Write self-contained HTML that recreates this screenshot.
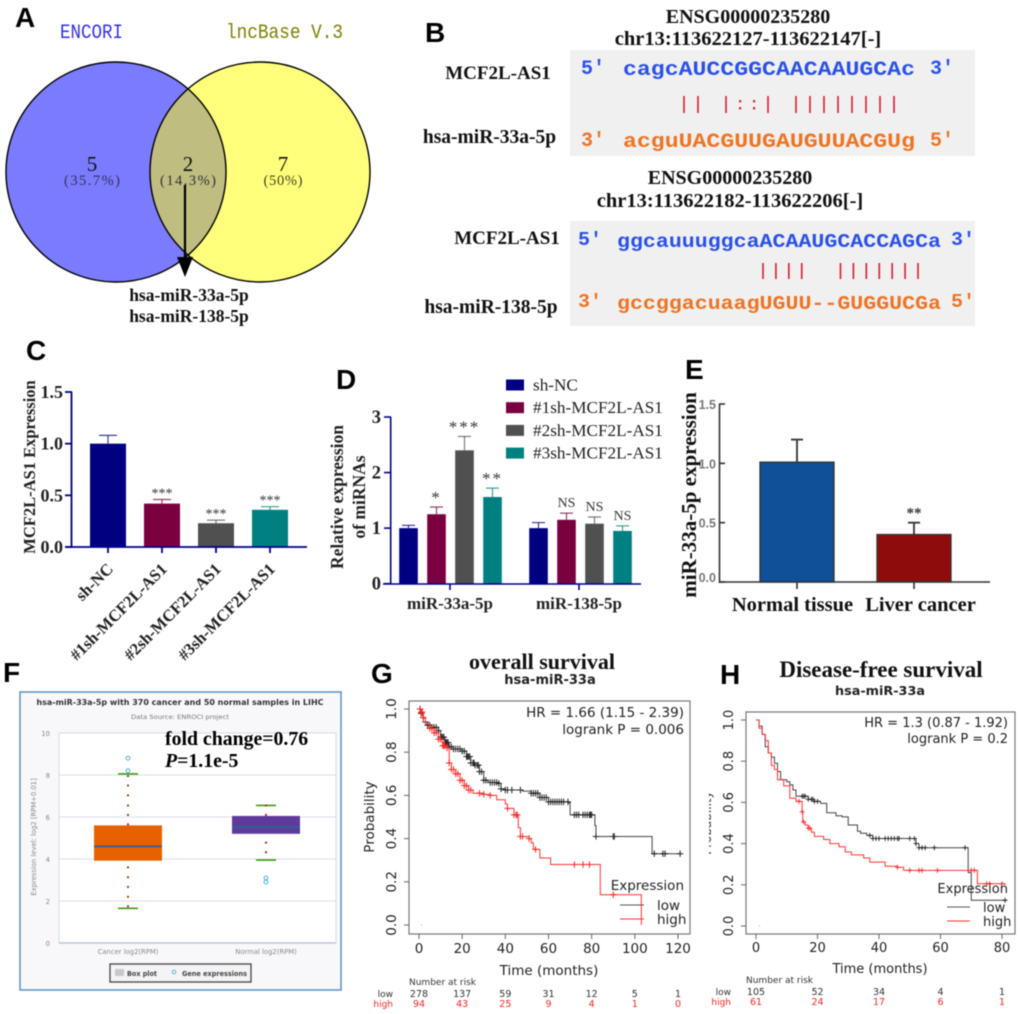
<!DOCTYPE html>
<html lang="en">
<head>
<meta charset="utf-8">
<title>Multi-panel figure on MCF2L-AS1 and miR-33a-5p</title>
<style>
html,body{margin:0;padding:0;background:#fff;}
svg{display:block;filter:blur(0.4px);}
.serif{font-family:"Liberation Serif",serif;}
.bold{font-weight:bold;}
.sans{font-family:"DejaVu Sans",sans-serif;}
.mono{font-family:"Liberation Mono",monospace;font-weight:bold;}
.letter{font-family:"Liberation Sans",sans-serif;font-weight:bold;font-size:28px;fill:#000;}
</style>
</head>
<body>
<svg id="fig" xmlns="http://www.w3.org/2000/svg" width="1020" height="1014" viewBox="0 0 1020 1014">
<defs>
<clipPath id="lens"><circle cx="116" cy="172" r="110"/></clipPath>
<clipPath id="hclip"><rect x="709" y="700" width="6" height="200"/></clipPath>
</defs>
<rect x="0" y="0" width="1020" height="1014" fill="#fff"/>

<!-- Panel A -->
<g id="panelA">
<text class="letter" x="15" y="27">A</text>
<text x="60" y="38" font-family="Liberation Mono, monospace" font-size="20" fill="#3232ee" textLength="63" lengthAdjust="spacingAndGlyphs">ENCORI</text>
<text x="226" y="38" font-family="Liberation Mono, monospace" font-size="20" fill="#808000" textLength="117" lengthAdjust="spacingAndGlyphs">lncBase V.3</text>
<circle cx="116" cy="172" r="110" fill="#7b7bff"/>
<circle cx="260" cy="172" r="110" fill="#ffff7b"/>
<circle cx="260" cy="172" r="110" fill="#bfbd80" clip-path="url(#lens)"/>
<circle cx="116" cy="172" r="110" fill="none" stroke="#000" stroke-width="1.4"/>
<circle cx="260" cy="172" r="110" fill="none" stroke="#000" stroke-width="1.4"/>
<text class="serif" x="92" y="171" font-size="21" text-anchor="middle" fill="#111">5</text>
<text class="serif" x="92" y="185" font-size="14.5" text-anchor="middle" fill="#33335a" textLength="56">(35.7%)</text>
<text class="serif" x="188" y="171" font-size="21" text-anchor="middle" fill="#111">2</text>
<text class="serif" x="188" y="185" font-size="14.5" text-anchor="middle" fill="#333" textLength="56">(14.3%)</text>
<text class="serif" x="283" y="171" font-size="21" text-anchor="middle" fill="#111">7</text>
<text class="serif" x="283" y="185" font-size="14.5" text-anchor="middle" fill="#444420" textLength="39">(50%)</text>
<line x1="185" y1="185" x2="185" y2="258" stroke="#000" stroke-width="2.2"/>
<polygon points="177,257 193,257 185,277" fill="#000"/>
<text class="serif bold" x="189" y="301" font-size="17.5" text-anchor="middle" fill="#111">hsa-miR-33a-5p</text>
<text class="serif bold" x="189" y="322" font-size="17.5" text-anchor="middle" fill="#111">hsa-miR-138-5p</text>
</g>

<!-- Panel B -->
<g id="panelB">
<text class="letter" x="425" y="42">B</text>
<text class="serif bold" x="748" y="23" font-size="20" text-anchor="middle" fill="#111">ENSG00000235280</text>
<text class="serif bold" x="748" y="45" font-size="20.5" text-anchor="middle" fill="#111">chr13:113622127-113622147[-]</text>
<rect x="570" y="50" width="405" height="106" fill="#f0f0f0"/>
<text class="serif bold" x="498" y="79" font-size="19" text-anchor="middle" fill="#111">MCF2L-AS1</text>
<text class="serif bold" x="489.5" y="143" font-size="19.5" text-anchor="middle" fill="#111">hsa-miR-33a-5p</text>
<text class="mono" x="581" y="74" font-size="20" fill="#2a50e8" textLength="24" lengthAdjust="spacingAndGlyphs">5'</text>
<text class="mono" x="623" y="75" font-size="20" fill="#2a50e8" textLength="292" lengthAdjust="spacingAndGlyphs">cagcAUCCGGCAACAAUGCAc</text>
<text class="mono" x="930" y="74" font-size="20" fill="#2a50e8" textLength="24" lengthAdjust="spacingAndGlyphs">3'</text>
<text class="mono" x="581" y="146" font-size="20" fill="#ee7322" textLength="24" lengthAdjust="spacingAndGlyphs">3'</text>
<text class="mono" x="623" y="147" font-size="20" fill="#ee7322" textLength="292" lengthAdjust="spacingAndGlyphs">acguUACGUUGAUGUUACGUg</text>
<text class="mono" x="930" y="146" font-size="20" fill="#ee7322" textLength="24" lengthAdjust="spacingAndGlyphs">5'</text>
<g id="pairs1"></g>
<text class="serif bold" x="730" y="184" font-size="20" text-anchor="middle" fill="#111">ENSG00000235280</text>
<text class="serif bold" x="730" y="207" font-size="20.5" text-anchor="middle" fill="#111">chr13:113622182-113622206[-]</text>
<rect x="570" y="221" width="405" height="105" fill="#f0f0f0"/>
<text class="serif bold" x="507" y="244" font-size="19" text-anchor="middle" fill="#111">MCF2L-AS1</text>
<text class="serif bold" x="491" y="313" font-size="19.5" text-anchor="middle" fill="#111">hsa-miR-138-5p</text>
<text class="mono" x="578" y="245" font-size="19" fill="#2a50e8" textLength="24" lengthAdjust="spacingAndGlyphs">5'</text>
<text class="mono" x="617" y="247" font-size="19" fill="#2a50e8" textLength="324" lengthAdjust="spacingAndGlyphs">ggcauuuggcaACAAUGCACCAGCa</text>
<text class="mono" x="951" y="245" font-size="19" fill="#2a50e8" textLength="24" lengthAdjust="spacingAndGlyphs">3'</text>
<text class="mono" x="578" y="307" font-size="19" fill="#ee7322" textLength="24" lengthAdjust="spacingAndGlyphs">3'</text>
<text class="mono" x="617" y="309" font-size="19" fill="#ee7322" textLength="324" lengthAdjust="spacingAndGlyphs">gccggacuaagUGUU--GUGGUCGa</text>
<text class="mono" x="951" y="307" font-size="19" fill="#ee7322" textLength="24" lengthAdjust="spacingAndGlyphs">5'</text>
<g id="pairs2"></g>
</g>

<!-- Panel C -->
<g id="panelC">
<text class="letter" x="26" y="360">C</text>
<text class="serif bold" transform="translate(35,467) rotate(-90)" font-size="16.5" text-anchor="middle" fill="#222">MCF2L-AS1 Expression</text>
</g>

<!-- Panel D -->
<g id="panelD">
<text class="letter" x="336" y="389">D</text>
<text class="serif bold" transform="translate(343,497) rotate(-90)" font-size="17.5" text-anchor="middle" fill="#222">Relative expression</text>
<text class="serif bold" transform="translate(365,497) rotate(-90)" font-size="17.5" text-anchor="middle" fill="#222">of miRNAs</text>
</g>

<!-- Panel E -->
<g id="panelE">
<text class="letter" x="685" y="379">E</text>
<text class="serif bold" transform="translate(696,495) rotate(-90)" font-size="21" text-anchor="middle" fill="#111">miR-33a-5p expression</text>
</g>

<!-- Panel F -->
<g id="panelF">
<text class="letter" x="3" y="682">F</text>
<rect x="20" y="692" width="321" height="298" fill="#f8f8fb" stroke="#5f8fbf" stroke-width="1.5"/>
<text class="sans bold" x="180" y="705" font-size="8" text-anchor="middle" fill="#333" textLength="287" lengthAdjust="spacingAndGlyphs">hsa-miR-33a-5p with 370 cancer and 50 normal samples in LIHC</text>
<text class="sans" x="180" y="719" font-size="6.5" text-anchor="middle" fill="#777" textLength="98" lengthAdjust="spacingAndGlyphs">Data Source: ENROCI project</text>
<rect x="59" y="733" width="277" height="210" fill="#fff"/>
<text class="sans" transform="translate(36,837) rotate(-90)" font-size="6.8" text-anchor="middle" fill="#888">Expression level: log2 [RPM+0.01]</text>
<rect x="110" y="964" width="141" height="18" fill="#f4f4f6" stroke="#444" stroke-width="1.3"/>
<rect x="115" y="969" width="9" height="7" fill="#c8c8c8"/>
<text class="sans bold" x="127" y="976" font-size="7" fill="#444" textLength="30" lengthAdjust="spacingAndGlyphs">Box plot</text>
<circle cx="174" cy="972" r="1.8" fill="none" stroke="#4bb0d0" stroke-width="0.9"/>
<text class="sans bold" x="182" y="976" font-size="7" fill="#444" textLength="65" lengthAdjust="spacingAndGlyphs">Gene expressions</text>
</g>

<!-- Panel G -->
<g id="panelG">
<text class="letter" x="371" y="683">G</text>
<text class="serif bold" x="542" y="669" font-size="22" text-anchor="middle" fill="#111">overall survival</text>
<text class="sans bold" x="550" y="684" font-size="13" text-anchor="middle" fill="#222">hsa-miR-33a</text>
</g>

<!-- Panel H -->
<g id="panelH">
<text class="letter" x="720" y="684">H</text>
<text class="serif bold" x="881" y="677" font-size="23" text-anchor="middle" fill="#111">Disease-free survival</text>
<text class="sans bold" x="880" y="695" font-size="12.8" text-anchor="middle" fill="#222">hsa-miR-33a</text>
<g clip-path="url(#hclip)">
<text class="sans" transform="translate(711,823) rotate(-90)" font-size="12" text-anchor="middle" fill="#333">Probability</text>
</g>
</g>
</svg>

<script>
// ---- Panel B data
const site1Pairs = ['|','|','|',':',':','|','|','|','|','|','|','|','|','|'];
const site1PairColumns = [0,1,3,4,5,6,8,9,10,11,12,13,14,15];
const site2Pairs = ['|','|','|','|','|','|','|','|','|','|','|'];
const site2PairColumns = [0,1,2,3,6,7,8,9,10,11,12];

// ---- Panel C data
const cCategories = ['sh-NC','#1sh-MCF2L-AS1','#2sh-MCF2L-AS1','#3sh-MCF2L-AS1'];
const cValues = [1.0,0.42,0.23,0.36];
const cErrorTops = [1.08,0.46,0.26,0.39];
const cStars = ['','***','***','***'];
const cYTicks = [0,0.5,1.0,1.5];
const cYTickLabels = ['0.0','0.5','1.0','1.5'];

// ---- Panel D data
const dGroups = ['miR-33a-5p','miR-138-5p'];
const dSeriesNames = ['sh-NC','#1sh-MCF2L-AS1','#2sh-MCF2L-AS1','#3sh-MCF2L-AS1'];
const dMir33Values = [1.0,1.25,2.4,1.56];
const dMir33Errors = [1.05,1.38,2.65,1.72];
const dMir33Marks = ['','*','***','**'];
const dMir138Values = [1.0,1.15,1.08,0.95];
const dMir138Errors = [1.1,1.27,1.2,1.04];
const dMir138Marks = ['','NS','NS','NS'];
const dYTicks = [0,1,2,3];

// ---- Panel E data
const eCategories = ['Normal tissue','Liver cancer'];
const eValues = [1.01,0.4];
const eErrorTops = [1.2,0.5];
const eStars = ['','**'];
const eYTicks = [0,0.5,1.0,1.5];
const eYTickLabels = ['0.0','0.5','1.0','1.5'];

// ---- Panel F data
const fCategories = ['Cancer log2(RPM)','Normal log2(RPM)'];
const fQ1 = [3.92,5.2];
const fMedian = [4.6,5.52];
const fQ3 = [5.6,6.05];
const fWhiskerLow = [1.65,3.95];
const fWhiskerHigh = [8.05,6.55];
const fOutliersCancer = [8.8,8.2];
const fOutliersNormal = [3.1,2.9];
const fDotsCancer = [7.95,7.5,7.03,6.55,6.1,5.65,3.6,3.13,2.67,2.2,1.75];
const fDotsNormal = [6.55,6.1,4.78,4.32];
const fYTicks = [0,2,4,6,8,10];

// ---- Panel G data
const gLowTimes = [0,1,2,3,4,6,9,10,12,14,16,20,22,24,26,28,30,32,37,38,40,48,52,56,60,69.5,70,80.5,81.5,82,107,108,121];
const gLowProbs = [1,.98,.96,.94,.925,.915,.9,.87,.845,.825,.815,.805,.78,.75,.74,.71,.67,.66,.655,.63,.625,.62,.61,.59,.57,.565,.51,.51,.46,.41,.41,.33,.33];
const gHighTimes = [0,1,2,3,5,7,9,11,13,14,15,17,19,21,23,25,30,33,36,40,41,44,46,47,51,52,53,56,61,83.5,84,103];
const gHighProbs = [1,.985,.96,.93,.91,.89,.86,.83,.82,.75,.72,.7,.67,.645,.625,.61,.605,.6,.58,.56,.54,.51,.45,.41,.4,.38,.35,.31,.28,.28,.14,.0];
const gLowCensor = [.5,1,2,3,4,5,6,7,8,9,10,10.5,11,11.5,12,12.5,13,13.5,14,15,16,17,18,19,20,21,22,22.5,23,23.5,24,25,25.5,26,27,27.5,28,29,30,31,33,34,35,36,37,38,40,41,43,47,52,53,54,55,56,57,58,59,60,61,62,63,64,65,66,67,69,72,73,74,76,77,78,79,79.5,80,82,90,90.5,109,113,114,121];
const gHighCensor = [.5,1,1.5,2,5,6,7,8,9,10,11,11.5,12,13,14,15,16,17,18,19,20,21,22,23,24,28,30,33,41,44,45,45.5,47,48,51,54,72,76,79,90];
const gXTicks = [0,20,40,60,80,100,120];
const gYTicks = [0,0.2,0.4,0.6,0.8,1.0];
const gLowRisk = [278,137,59,31,12,5,1];
const gHighRisk = [94,43,25,9,4,1,0];

// ---- Panel H data
const hLowTimes = [0,1,2,3,4,5,6,7,8,10,11,12,13,17,19,21,23,26,28,30,33,34,36,38,51,52,53,68.5,69,70,81];
const hLowProbs = [1,.97,.93,.87,.84,.82,.79,.75,.71,.7,.685,.66,.63,.615,.605,.595,.55,.535,.53,.49,.46,.45,.44,.425,.425,.4,.38,.38,.26,.125,.125];
const hHighTimes = [0,1,2,3,4,5,6,7,9,11,13,15,15.2,16,17,18,19,22,24,27,29,31,35,37,42,46,48,72,81];
const hHighProbs = [1,.96,.93,.9,.84,.78,.76,.71,.68,.62,.605,.555,.505,.49,.475,.455,.435,.42,.4,.385,.36,.345,.33,.31,.29,.285,.27,.205,.2];
const hLowCensor = [15,15.5,16,17,18,18.5,19,20,37,38,39,40,42,43,44,45,46,46.5,50,51.5,52,53,54,55,58,68,81];
const hHighCensor = [14,15,15.5,17,17.5,46,50,53,54,59,70,71,75,76,80];
const hXTicks = [0,20,40,60,80];
const hYTicks = [0,0.2,0.4,0.6,0.8,1.0];
const hLowRisk = [105,52,34,4,1];
const hHighRisk = [61,24,17,6,1];

// ---- helpers
const NS_URI = 'http://www.w3.org/2000/svg';
function mk(tag, attrs, parent, txt){
  const e = document.createElementNS(NS_URI, tag);
  for (const k in attrs) e.setAttribute(k, attrs[k]);
  if (txt !== undefined) e.textContent = txt;
  parent.appendChild(e);
  return e;
}
function linear(d0,d1,r0,r1){ return v => r0 + (v-d0)*(r1-r0)/(d1-d0); }
const SERIF = '"Liberation Serif",serif';
const DEJAVU = '"DejaVu Sans",sans-serif';
const barColors = ['#000080','#7a0040','#505050','#008080'];

// ---- Panel B pairs
(function(){
  const g1 = document.getElementById('pairs1');
  const g2 = document.getElementById('pairs2');
  const p1 = linear(0,15,684,894);
  site1PairColumns.forEach((c,i)=>{
    const t = site1Pairs[i];
    const x = p1(c);
    if (t === '|') {
      const l = mk('line',{x1:x,y1:96,x2:x,y2:113,stroke:'#d8263c','stroke-width':1.7},g1);
      
      
    } else {
      const d1 = mk('rect',{x:x-1,y:100,width:2.2,height:2.4,fill:'#d8263c'},g1);
      
      
      const d2 = mk('rect',{x:x-1,y:107,width:2.2,height:2.4,fill:'#d8263c'},g1);
      
      
    }
  });
  const p2 = linear(0,12,763,918);
  site2PairColumns.forEach((c)=>{
    const x = p2(c);
    const l = mk('line',{x1:x,y1:263,x2:x,y2:279,stroke:'#d8263c','stroke-width':1.7},g2);
    
    
  });
})();

// ---- Panel C
(function(){
  const g = document.getElementById('panelC');
  const y = linear(0,1.5,547,392);
  const xc = i => 108 + i*54;
  const axis = '#00008c';
  const ya = mk('line',{x1:71.5,y1:y(1.5),x2:71.5,y2:y(0)+1,stroke:axis,'stroke-width':1.8},g);
  
  
  cYTicks.forEach((t,i)=>{
    const tk = mk('line',{x1:65,y1:y(t),x2:72,y2:y(t),stroke:axis,'stroke-width':1.8},g);
    
    
    const lb = mk('text',{x:63,y:y(t)+6,'text-anchor':'end','font-family':SERIF,'font-weight':'bold','font-size':18,fill:'#222'},g,cYTickLabels[i]);
    
    
  });
  cCategories.forEach((c,i)=>{
    const x = xc(i);
    const eb = mk('line',{x1:x,y1:y(cErrorTops[i]),x2:x,y2:y(cValues[i]),stroke:barColors[i],'stroke-width':1.2,opacity:.75},g);
    
    
    const cap = mk('line',{x1:x-9,y1:y(cErrorTops[i]),x2:x+9,y2:y(cErrorTops[i]),stroke:barColors[i],'stroke-width':1.2,opacity:.75},g);
    
    
    const r = mk('rect',{x:x-18,y:y(cValues[i]),width:36,height:y(0)-y(cValues[i]),fill:barColors[i]},g);
    
    
    if (cStars[i]) {
      const s = mk('text',{x:x,y:y(cErrorTops[i])-2,'text-anchor':'middle','font-family':SERIF,'font-size':14,fill:'#333'},g,cStars[i]);
      
      
    }
    const tk = mk('line',{x1:x,y1:547,x2:x,y2:553,stroke:axis,'stroke-width':1.8},g);
    
    
    const lb = mk('text',{transform:'translate('+(x+6)+',570) rotate(-45)','text-anchor':'end','font-family':SERIF,'font-weight':'bold','font-size':16.5,fill:'#222'},g,c);
    
    
  });
  const xa = mk('line',{x1:65,y1:547,x2:307,y2:547,stroke:axis,'stroke-width':1.8},g);
  
  
})();

// ---- Panel D
(function(){
  const g = document.getElementById('panelD');
  const y = linear(0,3,583.7,417);
  const axis = '#00008c';
  const ya = mk('line',{x1:390.7,y1:417,x2:390.7,y2:584,stroke:axis,'stroke-width':1.6},g);
  
  
  dYTicks.forEach(t=>{
    const tk = mk('line',{x1:384,y1:y(t),x2:391,y2:y(t),stroke:axis,'stroke-width':1.6},g);
    
    
    const lb = mk('text',{x:381,y:y(t)+6,'text-anchor':'end','font-family':SERIF,'font-weight':'bold','font-size':18.5,fill:'#222'},g,String(t));
    
    
  });
  const groupValues = [dMir33Values,dMir138Values];
  const groupErrors = [dMir33Errors,dMir138Errors];
  const groupMarks = [dMir33Marks,dMir138Marks];
  const groupLeft = [408.5,538.5];
  const groupCenter = [450,579];
  dGroups.forEach((name,gi)=>{
    groupValues[gi].forEach((v,i)=>{
      const x = groupLeft[gi] + i*28;
      const eTop = groupErrors[gi][i];
      const eb = mk('line',{x1:x,y1:y(eTop),x2:x,y2:y(v),stroke:barColors[i],'stroke-width':1.2,opacity:.75},g);
      
      
      const cap = mk('line',{x1:x-6.5,y1:y(eTop),x2:x+6.5,y2:y(eTop),stroke:barColors[i],'stroke-width':1.2,opacity:.75},g);
      
      
      const r = mk('rect',{x:x-9.3,y:y(v),width:18.6,height:y(0)-y(v),fill:barColors[i]},g);
      
      
      const m = groupMarks[gi][i];
      if (m) {
        const isNS = m === 'NS';
        const s = mk('text',{x:x,y:y(eTop)-(isNS?6:-(-4)),'text-anchor':'middle','font-family':SERIF,'font-size':isNS?14:17,'letter-spacing':isNS?0:2,fill:'#333'},g,m);
        
        
      }
    });
    const tk = mk('line',{x1:groupCenter[gi],y1:584,x2:groupCenter[gi],y2:590,stroke:axis,'stroke-width':1.6},g);
    
    
    const lb = mk('text',{x:groupCenter[gi],y:609,'text-anchor':'middle','font-family':SERIF,'font-weight':'bold','font-size':17,fill:'#222'},g,name);
    
    
  });
  const xa = mk('line',{x1:383,y1:584,x2:641,y2:584,stroke:axis,'stroke-width':1.6},g);
  
  
  dSeriesNames.forEach((n,i)=>{
    const cy = 385 + i*22.7;
    const sw = mk('rect',{x:506,y:cy-5.5,width:18,height:11,fill:barColors[i]},g);
    
    
    const t = mk('text',{x:533,y:cy+5.5,'font-family':SERIF,'font-size':17.2,fill:'#222'},g,n);
    
    
  });
})();

// ---- Panel E
(function(){
  const g = document.getElementById('panelE');
  const y = linear(0,1.5,582,404);
  const axis = '#333';
  const ya = mk('line',{x1:719.5,y1:404,x2:719.5,y2:583,stroke:axis,'stroke-width':1.6},g);
  
  
  eYTicks.forEach((t,i)=>{
    const tk = mk('line',{x1:719,y1:y(t),x2:725,y2:y(t),stroke:axis,'stroke-width':1.6},g);
    
    
    const lb = mk('text',{x:716,y:y(t)+(t===0?0:5),'text-anchor':'end','font-family':'"Liberation Sans",sans-serif','font-weight':'bold','font-size':12.5,fill:'#777'},g,eYTickLabels[i]);
    
    
  });
  const centers = [797,914];
  const colors = ['#0f5099','#8f0c0c'];
  eCategories.forEach((c,i)=>{
    const x = centers[i];
    const eb = mk('line',{x1:x,y1:y(eErrorTops[i]),x2:x,y2:y(eValues[i]),stroke:'#333','stroke-width':1.8},g);
    
    
    const cap = mk('line',{x1:x-6,y1:y(eErrorTops[i]),x2:x+6,y2:y(eErrorTops[i]),stroke:'#333','stroke-width':1.8},g);
    
    
    const r = mk('rect',{x:x-37,y:y(eValues[i]),width:74,height:y(0)-y(eValues[i]),fill:colors[i],stroke:'#333','stroke-width':1.3},g);
    
    
    if (eStars[i]) {
      const s = mk('text',{x:x,y:y(eErrorTops[i])-5,'text-anchor':'middle','font-family':SERIF,'font-weight':'bold','font-size':15,fill:'#333'},g,eStars[i]);
      
      
    }
    const tk = mk('line',{x1:x,y1:582,x2:x,y2:589,stroke:axis,'stroke-width':1.6},g);
    
    
    const lb = mk('text',{x:i===0?792.5:920.5,y:611,'text-anchor':'middle','font-family':SERIF,'font-weight':'bold','font-size':20.5,fill:'#111'},g,c);
    
    
  });
  const xa = mk('line',{x1:719,y1:582,x2:990,y2:582,stroke:axis,'stroke-width':1.6},g);
  
  
})();

// ---- Panel F
(function(){
  const g = document.getElementById('panelF');
  const y = linear(0,10,943,733);
  fYTicks.forEach(t=>{
    if (t !== 0 && t !== 10) {
      const gl = mk('line',{x1:59,y1:y(t),x2:336,y2:y(t),stroke:'#dcdfe6','stroke-width':1},g);
      
      
    }
    const lb = mk('text',{x:50,y:y(t)+3,'text-anchor':'end','font-family':DEJAVU,'font-size':6.8,fill:'#888'},g,String(t));
    
    
  });
  const topL = mk('line',{x1:59,y1:733,x2:336,y2:733,stroke:'#d3d8e4','stroke-width':1},g);
  
  
  const rightL = mk('line',{x1:336,y1:733,x2:336,y2:943,stroke:'#d3d8e4','stroke-width':1},g);
  
  
  const leftL = mk('line',{x1:59,y1:733,x2:59,y2:943,stroke:'#d3d8e4','stroke-width':1},g);
  
  
  const base = mk('line',{x1:59,y1:943,x2:336,y2:943,stroke:'#bcc6da','stroke-width':1.4},g);
  
  
  const centers = [128,266];
  const colors = ['#e66100','#5f3a9a'];
  const outliers = [fOutliersCancer,fOutliersNormal];
  const dots = [fDotsCancer,fDotsNormal];
  fCategories.forEach((c,i)=>{
    const x = centers[i];
    const r = mk('rect',{x:x-34,y:y(fQ3[i]),width:68,height:y(fQ1[i])-y(fQ3[i]),fill:colors[i]},g);
    
    
    const m = mk('line',{x1:x-34,y1:y(fMedian[i]),x2:x+34,y2:y(fMedian[i]),stroke:'#2e5f96','stroke-width':1.8},g);
    
    
    const wl = mk('line',{x1:x-10,y1:y(fWhiskerLow[i]),x2:x+10,y2:y(fWhiskerLow[i]),stroke:'#3f9b16','stroke-width':1.6},g);
    
    
    const wh = mk('line',{x1:x-10,y1:y(fWhiskerHigh[i]),x2:x+10,y2:y(fWhiskerHigh[i]),stroke:'#3f9b16','stroke-width':1.6},g);
    
    
    dots[i].forEach(v=>{
      const d = mk('circle',{cx:x,cy:y(v),r:1.1,fill:'#b02a10'},g);
      
      
    });
    outliers[i].forEach(v=>{
      const o = mk('circle',{cx:x,cy:y(v),r:1.9,fill:'none',stroke:'#4bb0d0','stroke-width':1},g);
      
      
    });
    const lb = mk('text',{x:x,y:954,'text-anchor':'middle','font-family':DEJAVU,'font-size':6.8,fill:'#888'},g,c);
    
    
  });
  const fc = mk('text',{x:165,y:745,'font-family':SERIF,'font-weight':'bold','font-size':19.8,fill:'#000'},g,'fold change=0.76');
  
  
  const pv = mk('text',{x:165,y:767,'font-family':SERIF,'font-weight':'bold','font-size':19.8,fill:'#000'},g);
  
  
  const it = mk('tspan',{'font-style':'italic'},pv,'P');
  
  
  const rest = mk('tspan',{},pv,'=1.1e-5');
  
  
})();

// ---- Survival plots
function stepAt(times, probs, t){
  let p = probs[0];
  for (let i=0;i<times.length;i++){ if (times[i] <= t) p = probs[i]; }
  return p;
}
function stepPath(times, probs, x, y){
  let d = 'M'+x(times[0])+' '+y(probs[0]);
  for (let i=1;i<times.length;i++){
    d += 'H'+x(times[i])+'V'+y(probs[i]);
  }
  return d;
}
function survival(cfg){
  const g = cfg.g;
  const fs = cfg.fs;
  const x = linear(cfg.xDomain[0],cfg.xDomain[1],cfg.xRange[0],cfg.xRange[1]);
  const y = linear(0,1,cfg.y0,cfg.y1);
  const frame = mk('rect',{x:cfg.box[0],y:cfg.box[1],width:cfg.box[2]-cfg.box[0],height:cfg.box[3]-cfg.box[1],fill:'#fff',stroke:'#777','stroke-width':1.2},g);
  
  
  cfg.xTicks.forEach(t=>{
    const tk = mk('line',{x1:x(t),y1:cfg.box[3],x2:x(t),y2:cfg.box[3]+5,stroke:'#666','stroke-width':1},g);
    
    
    const lb = mk('text',{x:x(t),y:cfg.xLabelY,'text-anchor':'middle','font-family':DEJAVU,'font-size':fs,fill:'#222'},g,String(t));
    
    
  });
  cfg.yTicks.forEach(t=>{
    const tk = mk('line',{x1:cfg.box[0]-5,y1:y(t),x2:cfg.box[0],y2:y(t),stroke:'#666','stroke-width':1},g);
    
    
    const lb = mk('text',{transform:'translate('+cfg.yLabelX+','+y(t)+') rotate(-90)','text-anchor':'middle','font-family':DEJAVU,'font-size':fs,fill:'#222'},g,t.toFixed(1));
    
    
  });
  const dot = mk('rect',{x:x(cfg.dotX),y:y(0)-.4,width:.8,height:.8,fill:'#777'},g);
  
  
  const lowPath = mk('path',{d:stepPath(cfg.lowT,cfg.lowP,x,y),fill:'none',stroke:'#444','stroke-width':1},g);
  
  
  cfg.lowC.forEach(t=>{
    const px = x(t), py = y(stepAt(cfg.lowT,cfg.lowP,t));
    const c = mk('path',{d:'M'+(px-cfg.cs)+' '+py+'H'+(px+cfg.cs)+'M'+px+' '+(py-cfg.cs)+'V'+(py+cfg.cs),fill:'none',stroke:'#222','stroke-width':cfg.cw},g);
    
    
  });
  const highPath = mk('path',{d:stepPath(cfg.highT,cfg.highP,x,y),fill:'none',stroke:'#f33','stroke-width':1},g);
  
  
  cfg.highC.forEach(t=>{
    const px = x(t), py = y(stepAt(cfg.highT,cfg.highP,t));
    const c = mk('path',{d:'M'+(px-cfg.cs)+' '+py+'H'+(px+cfg.cs)+'M'+px+' '+(py-cfg.cs)+'V'+(py+cfg.cs),fill:'none',stroke:'#f22','stroke-width':cfg.cw},g);
    
    
  });
  const hr = mk('text',{x:cfg.textRight,y:cfg.hrY,'text-anchor':'end','font-family':DEJAVU,'font-size':fs,fill:'#222'},g,cfg.hr);
  
  
  const lr = mk('text',{x:cfg.textRight,y:cfg.hrY+cfg.hrGap,'text-anchor':'end','font-family':DEJAVU,'font-size':fs,fill:'#222'},g,cfg.logrank);
  
  
  const lt = mk('text',{x:cfg.textRight,y:cfg.legY,'text-anchor':'end','font-family':DEJAVU,'font-size':fs,fill:'#222'},g,'Expression');
  
  
  const l1 = mk('line',{x1:cfg.legLine[0],y1:cfg.legY+cfg.legRow1-5,x2:cfg.legLine[1],y2:cfg.legY+cfg.legRow1-5,stroke:'#555','stroke-width':.9},g);
  
  
  const l2 = mk('line',{x1:cfg.legLine[0],y1:cfg.legY+cfg.legRow2-5,x2:cfg.legLine[1],y2:cfg.legY+cfg.legRow2-5,stroke:'#f33','stroke-width':.9},g);
  
  
  const t1 = mk('text',{x:cfg.legText,y:cfg.legY+cfg.legRow1,'font-family':DEJAVU,'font-size':fs,fill:'#222'},g,'low');
  
  
  const t2 = mk('text',{x:cfg.legText,y:cfg.legY+cfg.legRow2,'font-family':DEJAVU,'font-size':fs,fill:'#222'},g,'high');
  
  
  const tt = mk('text',{x:cfg.timeX,y:cfg.timeY,'text-anchor':'middle','font-family':DEJAVU,'font-size':fs,fill:'#222'},g,'Time (months)');
  
  
  if (cfg.probX) {
    const pt = mk('text',{transform:'translate('+cfg.probX+',817) rotate(-90)','text-anchor':'middle','font-family':DEJAVU,'font-size':fs,fill:'#222'},g,'Probability');
    
    
  }
  const nr = mk('text',{x:cfg.box[0],y:cfg.riskY,'font-family':DEJAVU,'font-size':9,fill:'#333'},g,'Number at risk');
  
  
  const rl = mk('text',{x:cfg.riskLabelX,y:cfg.riskY+12,'text-anchor':'end','font-family':DEJAVU,'font-size':9,fill:'#333'},g,'low');
  
  
  const rh = mk('text',{x:cfg.riskLabelX,y:cfg.riskY+22,'text-anchor':'end','font-family':DEJAVU,'font-size':9,fill:'#f22'},g,'high');
  
  
  cfg.xTicks.forEach((t,i)=>{
    const a = mk('text',{x:x(t),y:cfg.riskY+12,'text-anchor':'middle','font-family':DEJAVU,'font-size':9.5,fill:'#333'},g,String(cfg.lowRisk[i]));
    
    
    const b = mk('text',{x:x(t),y:cfg.riskY+22,'text-anchor':'middle','font-family':DEJAVU,'font-size':9.5,fill:'#f22'},g,String(cfg.highRisk[i]));
    
    
  });
}
survival({
  g:document.getElementById('panelG'),fs:13.5,cw:1,
  xDomain:[0,120],xRange:[419,678],y0:925,y1:709,box:[409,701,690,934],
  xTicks:gXTicks,yTicks:gYTicks,xLabelY:953,yLabelX:396,dotX:1,cs:3.2,
  lowT:gLowTimes,lowP:gLowProbs,highT:gHighTimes,highP:gHighProbs,lowC:gLowCensor,highC:gHighCensor,
  hr:'HR = 1.66 (1.15 - 2.39)',logrank:'logrank P = 0.006',textRight:684,hrY:717,hrGap:17,
  legY:890,legRow1:20,legRow2:34,legLine:[620,644],legText:657,
  timeX:549,timeY:975,probX:374,riskY:985,riskLabelX:393,lowRisk:gLowRisk,highRisk:gHighRisk
});
survival({
  g:document.getElementById('panelH'),fs:13,cw:.9,
  xDomain:[0,80],xRange:[756,1002],y0:926,y1:720,box:[746,712,1015,934],
  xTicks:hXTicks,yTicks:hYTicks,xLabelY:952,yLabelX:733,dotX:1,cs:2.5,
  lowT:hLowTimes,lowP:hLowProbs,highT:hHighTimes,highP:hHighProbs,lowC:hLowCensor,highC:hHighCensor,
  hr:'HR = 1.3 (0.87 - 1.92)',logrank:'logrank P = 0.2',textRight:1008,hrY:727,hrGap:16,
  legY:893,legRow1:19,legRow2:33,legLine:[947,970],legText:983,
  timeX:880,timeY:973,probX:0,riskY:983,riskLabelX:731,lowRisk:hLowRisk,highRisk:hHighRisk
});
</script>
</body>
</html>
